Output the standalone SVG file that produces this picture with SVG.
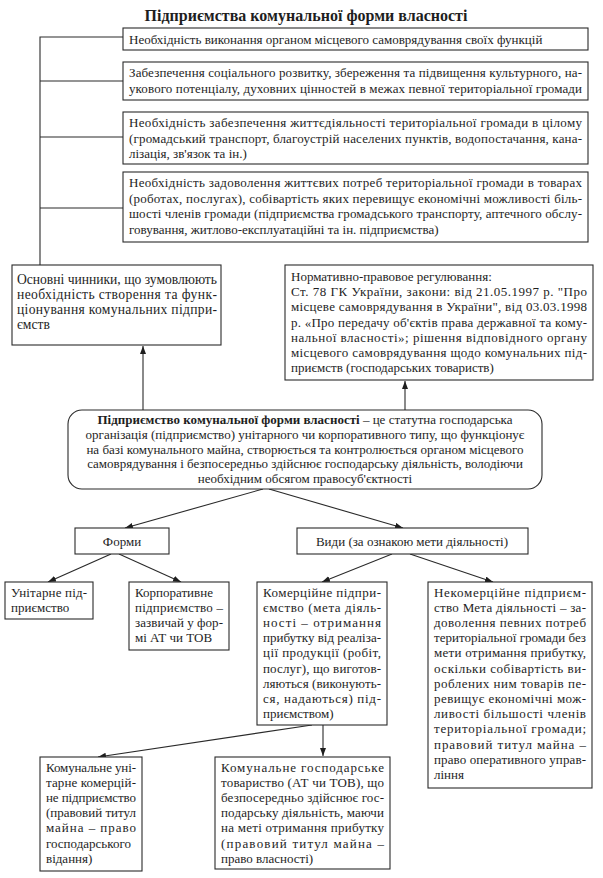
<svg xmlns="http://www.w3.org/2000/svg" width="603" height="878" viewBox="0 0 603 878">
<style>
.bx{fill:#fff;stroke:#2a2a2a;stroke-width:1.1}
.t{font-family:"Liberation Serif","DejaVu Serif",serif;font-size:13px;fill:#1e1e1e}
.big{font-size:13.6px}
.ttl{font-family:"Liberation Serif","DejaVu Serif",serif;font-size:16px;font-weight:bold;fill:#1e1e1e}
.c{text-anchor:middle}
.ln{fill:none;stroke:#2a2a2a;stroke-width:1.1}
</style>
<defs>
<marker id="ah" markerUnits="userSpaceOnUse" markerWidth="9" markerHeight="7" refX="8" refY="3" orient="auto">
<path d="M0,0 L8,3 L0,6 z" fill="#1e1e1e"/>
</marker>
</defs>
<rect width="603" height="878" fill="#fff"/>
<text class="ttl c" x="306" y="21">Підприємства комунальної форми власності</text>

<g id="connectors">
<path class="ln" d="M40,265 V37 H123 M40,81 H123 M40,137 H123 M40,208 H123"/>
<line class="ln" x1="143" y1="410" x2="143" y2="346" marker-end="url(#ah)"/>
<line class="ln" x1="405" y1="410" x2="405" y2="381" marker-end="url(#ah)"/>
<line class="ln" x1="263" y1="489" x2="125" y2="528" marker-end="url(#ah)"/>
<line class="ln" x1="269" y1="489" x2="403" y2="528" marker-end="url(#ah)"/>
<line class="ln" x1="111" y1="554" x2="48" y2="582" marker-end="url(#ah)"/>
<line class="ln" x1="119" y1="554" x2="181" y2="582" marker-end="url(#ah)"/>
<line class="ln" x1="392" y1="554" x2="322" y2="582" marker-end="url(#ah)"/>
<line class="ln" x1="410" y1="554" x2="493" y2="582" marker-end="url(#ah)"/>
<line class="ln" x1="312" y1="725" x2="98" y2="757" marker-end="url(#ah)"/>
<line class="ln" x1="323" y1="725" x2="323" y2="756" marker-end="url(#ah)"/>
</g>

<g id="n1">
<rect class="bx" x="123" y="28" width="465" height="22"/>
<text class="t" x="129" y="44">Необхідність виконання органом місцевого самоврядування своїх функцій</text>
</g>
<g id="n2">
<rect class="bx" x="123" y="62" width="465" height="38"/>
<text class="t" x="129" y="77" textLength="453">Забезпечення соціального розвитку, збереження та підвищення культурного, на-</text>
<text class="t" x="129" y="92.7" textLength="453">укового потенціалу, духовних цінностей в межах певної територіальної громади</text>
</g>
<g id="n3">
<rect class="bx" x="123" y="112" width="465" height="52"/>
<text class="t" x="129" y="127" textLength="453">Необхідність забезпечення життєдіяльності територіальної громади в цілому</text>
<text class="t" x="129" y="142.7" textLength="453">(громадський транспорт, благоустрій населених пунктів, водопостачання, кана-</text>
<text class="t" x="129" y="158.4">лізація, зв'язок та ін.)</text>
</g>
<g id="n4">
<rect class="bx" x="123" y="172" width="465" height="70"/>
<text class="t" x="129" y="187" textLength="453">Необхідність задоволення життєвих потреб територіальної громади в товарах</text>
<text class="t" x="129" y="202.7" textLength="453">(роботах, послугах), собівартість яких перевищує економічні можливості біль-</text>
<text class="t" x="129" y="218.4" textLength="453">шості членів громади (підприємства громадського транспорту, аптечного обслу-</text>
<text class="t" x="129" y="234.1">говування, житлово-експлуатаційні та ін. підприємства)</text>
</g>

<g id="factors">
<rect class="bx" x="12" y="265" width="209" height="80"/>
<text class="t big" x="17" y="284" textLength="200">Основні чинники, що зумовлюють</text>
<text class="t big" x="17" y="299" textLength="200">необхідність створення та функ-</text>
<text class="t big" x="17" y="314" textLength="200">ціонування комунальних підпри-</text>
<text class="t big" x="17" y="329">ємств</text>
</g>

<g id="regulation">
<rect class="bx" x="285" y="265" width="308" height="115"/>
<text class="t" x="291" y="281">Нормативно-правовое регулювання:</text>
<text class="t" x="291" y="296.2" textLength="296">Ст. 78 ГК України, закони: від 21.05.1997 р. "Про</text>
<text class="t" x="291" y="311.4" textLength="296">місцеве самоврядування в України", від 03.03.1998</text>
<text class="t" x="291" y="326.6" textLength="296">р. «Про передачу об'єктів права державної та кому-</text>
<text class="t" x="291" y="341.8" textLength="296">нальної власності»; рішення відповідного органу</text>
<text class="t" x="291" y="357" textLength="296">місцевого самоврядування щодо комунальних під-</text>
<text class="t" x="291" y="372.2">приємств (господарських товариств)</text>
</g>

<g id="definition">
<rect class="bx" x="68" y="410" width="474" height="79" rx="14"/>
<text class="t c" x="305" y="424"><tspan font-weight="bold">Підприємство комунальної форми власності</tspan> – це статутна господарська</text>
<text class="t c" x="305" y="438.8">організація (підприємство) унітарного чи корпоративного типу, що функціонує</text>
<text class="t c" x="305" y="453.6">на базі комунального майна, створюється та контролюється органом місцевого</text>
<text class="t c" x="305" y="468.4">самоврядування і безпосередньо здійснює господарську діяльність, володіючи</text>
<text class="t c" x="305" y="483.2">необхідним обсягом правосуб'єктності</text>
</g>

<g id="forms">
<rect class="bx" x="75" y="528" width="94" height="26"/>
<text class="t c" x="122" y="546">Форми</text>
</g>
<g id="kinds">
<rect class="bx" x="297" y="528" width="231" height="26"/>
<text class="t c" x="412" y="546">Види (за ознакою мети діяльності)</text>
</g>

<g id="unitary">
<rect class="bx" x="5" y="582" width="88" height="37"/>
<text class="t" x="11" y="596.5" textLength="76">Унітарне під-</text>
<text class="t" x="11" y="611.7">приємство</text>
</g>
<g id="corporate">
<rect class="bx" x="129" y="582" width="100" height="68"/>
<text class="t" x="135" y="596.5">Корпоративне</text>
<text class="t" x="135" y="611.7" textLength="88">підприємство –</text>
<text class="t" x="135" y="626.9" textLength="88">зазвичай у фор-</text>
<text class="t" x="135" y="642.1">мі АТ чи ТОВ</text>
</g>

<g id="commercial">
<rect class="bx" x="257" y="582" width="130" height="143"/>
<text class="t" x="263" y="596.5" textLength="118">Комерційне підпри-</text>
<text class="t" x="263" y="611.7" textLength="118">ємство (мета діяль-</text>
<text class="t" x="263" y="626.9" textLength="118">ності – отримання</text>
<text class="t" x="263" y="642.1" textLength="118">прибутку від реаліза-</text>
<text class="t" x="263" y="657.3" textLength="118">ції продукції (робіт,</text>
<text class="t" x="263" y="672.5" textLength="118">послуг), що виготов-</text>
<text class="t" x="263" y="687.7" textLength="118">ляються (виконують-</text>
<text class="t" x="263" y="702.9" textLength="118">ся, надаються) під-</text>
<text class="t" x="263" y="718.1">приємством)</text>
</g>

<g id="noncommercial">
<rect class="bx" x="428" y="582" width="164" height="206"/>
<text class="t" x="434" y="596.5" textLength="152">Некомерційне підприєм-</text>
<text class="t" x="434" y="611.7" textLength="152">ство Мета діяльності – за-</text>
<text class="t" x="434" y="626.9" textLength="152">доволення певних потреб</text>
<text class="t" x="434" y="642.1" textLength="152">територіальної громади без</text>
<text class="t" x="434" y="657.3" textLength="152">мети отримання прибутку,</text>
<text class="t" x="434" y="672.5" textLength="152">оскільки собівартість ви-</text>
<text class="t" x="434" y="687.7" textLength="152">роблених ним товарів пе-</text>
<text class="t" x="434" y="702.9" textLength="152">ревищує економічні мож-</text>
<text class="t" x="434" y="718.1" textLength="152">ливості більшості членів</text>
<text class="t" x="434" y="733.3" textLength="152">територіальної громади;</text>
<text class="t" x="434" y="748.5" textLength="152">правовий титул майна –</text>
<text class="t" x="434" y="763.7" textLength="152">право оперативного управ-</text>
<text class="t" x="434" y="778.9">ління</text>
</g>

<g id="municipal-unitary">
<rect class="bx" x="40" y="757" width="102" height="114"/>
<text class="t" x="46" y="771.5" textLength="90">Комунальне уні-</text>
<text class="t" x="46" y="786.7" textLength="90">тарне комерцій-</text>
<text class="t" x="46" y="801.9" textLength="90">не підприємство</text>
<text class="t" x="46" y="817.1" textLength="90">(правовий титул</text>
<text class="t" x="46" y="832.3" textLength="90">майна – право</text>
<text class="t" x="46" y="847.5">господарського</text>
<text class="t" x="46" y="862.7">відання)</text>
</g>

<g id="municipal-company">
<rect class="bx" x="215" y="757" width="175" height="112"/>
<text class="t" x="221" y="771.5" textLength="163">Комунальне господарське</text>
<text class="t" x="221" y="786.7" textLength="163">товариство (АТ чи ТОВ), що</text>
<text class="t" x="221" y="801.9" textLength="163">безпосередньо здійснює гос-</text>
<text class="t" x="221" y="817.1" textLength="163">подарську діяльність, маючи</text>
<text class="t" x="221" y="832.3" textLength="163">на меті отримання прибутку</text>
<text class="t" x="221" y="847.5" textLength="163">(правовий титул майна –</text>
<text class="t" x="221" y="862.7">право власності)</text>
</g>
</svg>
